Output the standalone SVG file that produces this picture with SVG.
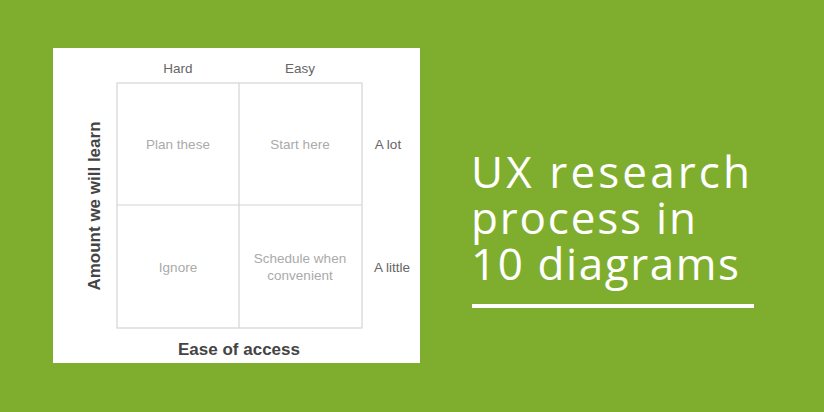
<svg xmlns="http://www.w3.org/2000/svg" width="824" height="412" viewBox="0 0 824 412">
<style>
.c{font-family:"Liberation Sans",Arial,sans-serif;font-size:13.5px;fill:#aaa;text-anchor:middle}
.l{font-family:"Liberation Sans",Arial,sans-serif;font-size:13.5px;fill:#666;text-anchor:middle}
.b{font-family:"Liberation Sans",Arial,sans-serif;font-size:17px;font-weight:bold;fill:#444;text-anchor:middle}
.t{font-family:"Open Sans","Liberation Sans",sans-serif;font-size:44px;fill:#fff}
.g{stroke:#d4d4d4;stroke-width:1.2;fill:none}
</style>
<rect width="824" height="412" fill="#7fae2e"/>
<rect x="53" y="48" width="367" height="315" fill="#fff"/>
<g id="grid">
<rect x="117" y="83" width="245" height="245" fill="#fafafa" class="g"/>
<line x1="239" y1="83" x2="239" y2="328" class="g"/>
<line x1="117" y1="205" x2="362" y2="205" class="g"/>
</g>
<g id="q1"><text x="178" y="149" class="c">Plan these</text></g>
<g id="q2"><text x="300" y="149" class="c">Start here</text></g>
<g id="q3"><text x="178" y="272" class="c">Ignore</text></g>
<g id="q4"><text x="300" y="263" class="c">Schedule when</text><text x="300" y="280" class="c">convenient</text></g>
<g id="labels">
<text x="178" y="73" class="l">Hard</text>
<text x="300" y="73" class="l">Easy</text>
<text x="388" y="149" class="l">A lot</text>
<text x="392" y="272" class="l">A little</text>
<text x="239" y="355" class="b">Ease of access</text>
<text transform="translate(100,206) rotate(-90)" class="b">Amount we will learn</text>
</g>
<g id="title">
<text x="471" y="188" class="t" textLength="279" lengthAdjust="spacing">UX research</text>
<text x="471" y="234" class="t" textLength="225" lengthAdjust="spacing">process in</text>
<text x="471" y="280" class="t" textLength="268" lengthAdjust="spacing">10 diagrams</text>
<rect x="472" y="304" width="282" height="4" fill="#fff"/>
</g>
</svg>
